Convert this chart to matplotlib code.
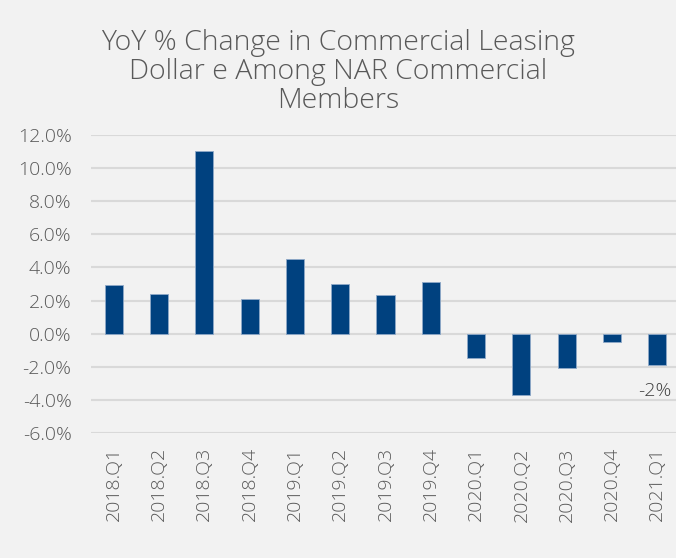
import matplotlib
matplotlib.use('Agg')
import matplotlib.pyplot as plt
from matplotlib.ticker import FuncFormatter

# data
quarters = ['2018.Q1', '2018.Q2', '2018.Q3', '2018.Q4',
            '2019.Q1', '2019.Q2', '2019.Q3', '2019.Q4',
            '2020.Q1', '2020.Q2', '2020.Q3', '2020.Q4', '2021.Q1']
yoy_change = [2.96, 2.37, 11.0, 2.12, 4.53, 3.02, 2.31, 3.10,
              -1.45, -3.72, -2.05, -0.5, -1.87]
y_ticks = [-6, -4, -2, 0, 2, 4, 6, 8, 10, 12]
last_label = '-2%'

bg = '#f2f2f2'
bar_color = '#00417f'
text_color = '#595959'

plt.rcParams['font.family'] = ['Open Sans', 'DejaVu Sans']

fig = plt.figure(figsize=(6.76, 5.58), dpi=100, facecolor=bg)
ax = fig.add_axes([91 / 676, (558 - 433.3) / 558, 589 / 676, 298.6 / 558])
ax.set_facecolor(bg)

x = range(len(quarters))
ax.bar(x, yoy_change, width=0.4, color=bar_color, edgecolor='#8fa9c8', linewidth=0.6, zorder=3)

ax.set_ylim(-6, 12)
ax.set_xlim(-0.5, len(quarters) - 0.5)
ax.set_yticks(y_ticks)
ax.yaxis.set_major_formatter(FuncFormatter(lambda v, p: '%.1f%%' % v))
ax.grid(axis='y', color='#d9d9d9', linewidth=1.5, zorder=0)
ax.set_xticks(list(x))
ax.set_xticklabels(quarters, rotation=90, va='top', ha='center')
ax.tick_params(axis='both', length=0, labelsize=14, labelcolor=text_color)
ax.tick_params(axis='y', pad=14)
ax.tick_params(axis='x', pad=10)
for lbl in ax.get_xticklabels() + ax.get_yticklabels():
    lbl.set_fontweight('light')
for s in ax.spines.values():
    s.set_visible(False)

# data label on the last bar
ax.text(len(quarters) - 1 - 0.05, yoy_change[-1] - 1.05, last_label, ha='center', va='top',
        fontsize=14, color='#404040', fontweight='light')

fig.text(0.5, 1 - 72 / 558, 'YoY % Change in Commercial Leasing\nDollar e Among NAR Commercial\nMembers',
         ha='center', va='center', fontsize=20.5, color=text_color, linespacing=1.05,
         fontweight='light')

plt.savefig('out.png', dpi=100, facecolor=bg)
plt.close()
